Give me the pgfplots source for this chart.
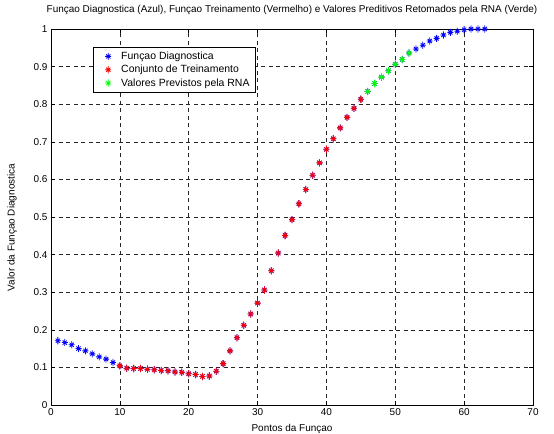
\documentclass[border=0pt]{standalone}
\usepackage{pgfplots}
\pgfplotsset{compat=1.18}
\usepackage{fontspec}
\setmainfont{Liberation Sans}
\pgfdeclareplotmark{mstar}{%
  \pgfpathmoveto{\pgfqpoint{-\pgfplotmarksize}{0pt}}%
  \pgfpathlineto{\pgfqpoint{\pgfplotmarksize}{0pt}}%
  \pgfpathmoveto{\pgfqpoint{0pt}{-1.2\pgfplotmarksize}}%
  \pgfpathlineto{\pgfqpoint{0pt}{1.2\pgfplotmarksize}}%
  \pgfpathmoveto{\pgfqpoint{-0.7\pgfplotmarksize}{-0.7\pgfplotmarksize}}%
  \pgfpathlineto{\pgfqpoint{0.7\pgfplotmarksize}{0.7\pgfplotmarksize}}%
  \pgfpathmoveto{\pgfqpoint{-0.7\pgfplotmarksize}{0.7\pgfplotmarksize}}%
  \pgfpathlineto{\pgfqpoint{0.7\pgfplotmarksize}{-0.7\pgfplotmarksize}}%
  \pgfusepathqstroke}
\pgfplotstableread{
x y
1 0.171
2 0.166
3 0.160
4 0.150
5 0.144
6 0.136
7 0.128
8 0.122
9 0.113
10 0.104
11 0.098
12 0.097
13 0.097
14 0.095
15 0.094
16 0.092
17 0.091
18 0.088
19 0.087
20 0.083
21 0.081
22 0.076
23 0.077
24 0.090
25 0.110
26 0.144
27 0.179
28 0.212
29 0.242
30 0.271
31 0.306
32 0.357
33 0.404
34 0.451
35 0.493
36 0.535
37 0.573
38 0.611
39 0.644
40 0.680
41 0.708
42 0.737
43 0.765
44 0.789
45 0.813
46 0.834
47 0.855
48 0.872
49 0.889
50 0.906
51 0.919
52 0.936
53 0.947
54 0.957
55 0.968
56 0.975
57 0.984
58 0.991
59 0.994
60 0.998
61 1.000
62 1.000
63 1.000
}\diag
\pgfplotstableread{
x y
10 0.104
11 0.098
12 0.097
13 0.097
14 0.095
15 0.094
16 0.092
17 0.091
18 0.088
19 0.087
20 0.083
21 0.081
22 0.076
23 0.077
24 0.090
25 0.110
26 0.144
27 0.179
28 0.212
29 0.242
30 0.271
31 0.306
32 0.357
33 0.404
34 0.451
35 0.493
36 0.535
37 0.573
38 0.611
39 0.644
40 0.680
41 0.708
42 0.737
43 0.765
44 0.789
45 0.813
}\train
\pgfplotstableread{
x y
46 0.834
47 0.855
48 0.872
49 0.889
50 0.906
51 0.919
52 0.936
}\rna
\definecolor{mblue}{RGB}{0,0,255}
\definecolor{mred}{RGB}{255,0,0}
\definecolor{mgreen}{RGB}{0,255,0}
\begin{document}
\begin{tikzpicture}
\useasboundingbox (-51bp,-29bp) rectangle (503bp,405bp);
\begin{axis}[
  at={(0,0)}, anchor=south west,
  scale only axis, width=482bp, height=376bp,
  xmin=0, xmax=70, ymin=0, ymax=1,
  xtick={0,10,...,70}, ytick={0,0.1,...,1},
  yticklabels={0,0.1,0.2,0.3,0.4,0.5,0.6,0.7,0.8,0.9,1},
  font=\fontsize{10}{12}\selectfont,
  /pgf/number format/assume math mode=true,
  tick align=inside, tickpos=both, major tick length=4bp,
  tick style={black, line width=0.5bp},
  axis line style={black, line width=0.6bp},
  grid=major,
  major grid style={black!85, dash pattern=on 4bp off 3.5bp, line width=0.5bp},
  title={Funçao Diagnostica (Azul), Funçao Treinamento (Vermelho) e Valores Preditivos Retomados pela RNA (Verde)},
  title style={at={(axis description cs:0.5,1)}, anchor=base, yshift=11bp, inner sep=0pt},
  xlabel={Pontos da Funçao},
  xlabel style={at={(axis description cs:0.5,0)}, anchor=base, yshift=-26bp, inner sep=0pt},
  ylabel={Valor da Funçao Diagnostica},
  ylabel style={at={(axis description cs:-0.081,0.472)}, anchor=center, inner sep=0pt},
  legend style={at={(axis description cs:0.087,0.952)}, anchor=north west, draw=black, line width=0.6bp, fill=white, font=\fontsize{10.5}{12}\selectfont, row sep=0.3bp, inner xsep=4bp, inner ysep=2.5bp},
  legend cell align=left,
  legend image code/.code={\path[draw=none,fill=none] (0bp,-1bp) rectangle (22bp,1bp);\draw[mark repeat=2,mark phase=2,#1] plot coordinates {(0bp,0bp) (11bp,0bp) (22bp,0bp)};},
]
\addplot[only marks, mark=mstar, mark size=3bp, line width=0.8bp, mblue] table[x=x,y=y] {\diag};
\addlegendentry{Funçao Diagnostica}
\addplot[only marks, mark=mstar, mark size=3bp, line width=0.8bp, mred] table[x=x,y=y] {\train};
\addlegendentry{Conjunto de Treinamento}
\addplot[only marks, mark=mstar, mark size=3bp, line width=0.8bp, mgreen] table[x=x,y=y] {\rna};
\addlegendentry{Valores Previstos pela RNA\hspace{6bp}}
\end{axis}
\end{tikzpicture}
\end{document}
